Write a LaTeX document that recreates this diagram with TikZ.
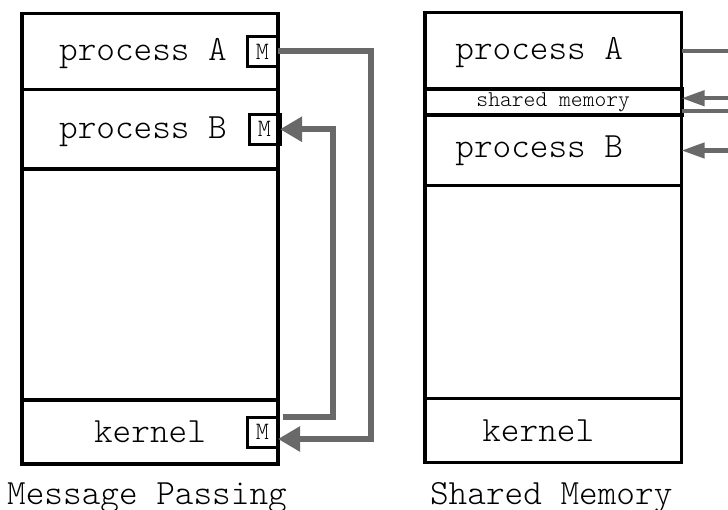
\documentclass[tikz,border=0pt]{standalone}
\usepackage{fontspec}
\setmonofont{Latin Modern Mono Light}
\usepackage{tikz}
\usetikzlibrary{positioning,arrows.meta}
\definecolor{pathgray}{RGB}{105,105,105}

\begin{document}
\begin{tikzpicture}[x=1pt,y=-1pt,
sec/.style={draw,rectangle,line width=3.2pt,minimum width=256pt,inner sep=0pt,outer sep=0pt},
lbl/.style={font=\ttfamily\fontsize{35.5}{40}\selectfont},
msg/.style={draw,rectangle,line width=3pt,minimum width=31pt,minimum height=30pt,inner sep=0pt,outer sep=0pt,
    font=\ttfamily\fontsize{25}{27}\selectfont},
mpline/.style={draw=pathgray,line width=6pt,-{Triangle[length=22pt,width=24pt]}},
smline/.style={draw=pathgray,line width=4.2pt},
smarrow/.style={smline,{Triangle[length=23pt,width=15pt]}-}]
\useasboundingbox (0,0) rectangle (728,510);

% message passing
\node (mpA) [sec,anchor=north west,minimum height=76pt,
    label={[lbl,xshift=-7pt,yshift=-2pt]center:process A}] at (22,13.5) {};
\node (mpB) [sec,below=0pt of mpA,minimum height=79.5pt,
    label={[lbl,xshift=-7pt,yshift=-2pt]center:process B}] {};
\node (mpFree) [sec,below=0pt of mpB,minimum height=231pt] {};
\node (mpK) [sec,below=0pt of mpFree,minimum height=64pt,
    label={[lbl]center:kernel}] {};
\node (mA) [msg,left=0pt of mpA.east] {M};
\node (mB) [msg,left=-2pt of mpB.east] {M};
\node (mK) [msg,left=0pt of mpK.east] {M};
\draw[mpline] (mA.east) -- ++(93,0) |- ([yshift=-7pt]mK.east);
\draw[mpline] ([xshift=5pt,yshift=15pt]mpK.east) -- ++(50,0) |- (mB.east);
\node (mpCap) [lbl,anchor=base] at ([xshift=-3pt,yshift=-40pt]mpK.south) {Message Passing};

% shared memory
\node (smA) [sec,anchor=north west,minimum width=256.5pt,minimum height=76.5pt,
    label={[lbl,xshift=-14pt,yshift=-2pt]center:process A}] at (425,12.5) {};
\node (smS) [sec,below=0pt of smA,minimum width=256.5pt,minimum height=26.5pt,line width=4pt,
    label={[font=\ttfamily\fontsize{22.5}{24}\selectfont]center:shared memory}] {};
\node (smB) [sec,below=0pt of smS,minimum width=256.5pt,minimum height=70pt,
    label={[lbl,xshift=-14pt]center:process B}] {};
\node (smFree) [sec,below=0pt of smB,minimum width=256.5pt,minimum height=213pt] {};
\node (smK) [sec,below=0pt of smFree,minimum width=256.5pt,minimum height=64pt,
    label={[lbl,xshift=-15pt]center:kernel}] {};
\draw[smline] (smA.east) -- ++(60,0);
\draw[smarrow] ([yshift=4pt]smS.east) -- ++(60,0);
\draw[smline] ([yshift=-9pt]smS.east) -- ++(60,0);
\draw[smarrow] (smB.east) -- ++(60,0);
\node (smCap) [lbl,anchor=base] at ([xshift=-2pt,yshift=-41.5pt]smK.south) {Shared Memory};
\end{tikzpicture}
\end{document}
